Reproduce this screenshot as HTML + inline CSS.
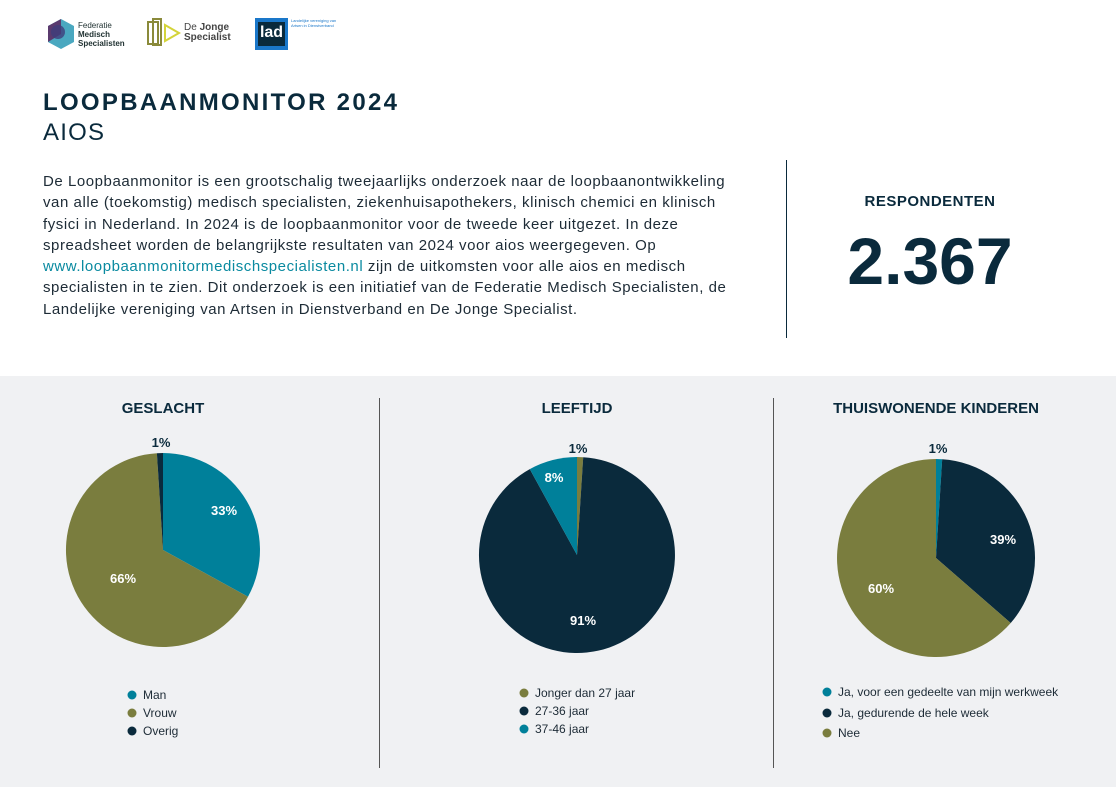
<!DOCTYPE html>
<html><head><meta charset="utf-8"><style>
body{margin:0;width:1116px;height:787px;background:#fff;font-family:"Liberation Sans",sans-serif;color:#0a2a3c;position:relative;overflow:hidden}
.a{position:absolute;white-space:nowrap}
</style></head><body>
<svg class="a" style="left:46px;top:18px" width="30" height="32" viewBox="0 0 30 32"><polygon points="15,1 28,8 28,24 15,31 2,24 2,8" fill="#4aa8c0"/><polygon points="15,1 2,8 2,24 15,16" fill="#5a3a6e"/><circle cx="12" cy="14" r="7" fill="#3e3d7a" opacity=".8"/></svg>
<div class="a" style="left:78px;top:21px;font-size:8px;line-height:9px;color:#233">Federatie<br><b>Medisch<br>Specialisten</b></div>
<svg class="a" style="left:146px;top:18px" width="38" height="30"><rect x="2" y="4" width="10" height="22" fill="none" stroke="#8a8a3a" stroke-width="2"/><rect x="7" y="1" width="8" height="26" fill="none" stroke="#8a8a3a" stroke-width="2"/><polygon points="19,7 33,15 19,23" fill="none" stroke="#d4d43a" stroke-width="2"/></svg>
<div class="a" style="left:184px;top:23px;font-size:10px;line-height:10px;color:#444"><span>De </span><b>Jonge</b><br><b>Specialist</b></div>
<div class="a" style="left:255px;top:18px;width:33px;height:32px;background:#1a77c9"></div>
<div class="a" style="left:258px;top:22px;width:27px;height:24px;background:#0a2a3c;color:#fff;font-size:16px;font-weight:bold;line-height:22px;text-align:center">lad</div>
<div class="a" style="left:291px;top:18px;font-size:4px;color:#1a77c9;line-height:5px">Landelijke vereniging van<br>Artsen in Dienstverband</div>

<div class="a" style="left:43px;top:89px;font-size:24px;font-weight:bold;letter-spacing:2.3px">LOOPBAANMONITOR 2024</div>
<div class="a" style="left:43px;top:119px;font-size:24px;letter-spacing:1.2px">AIOS</div>
<div class="a" style="left:43px;top:171px;font-size:15px;line-height:21.3px;color:#1d2b36;letter-spacing:0.55px">De Loopbaanmonitor is een grootschalig tweejaarlijks onderzoek naar de loopbaanontwikkeling<br>van alle (toekomstig) medisch specialisten, ziekenhuisapothekers, klinisch chemici en klinisch<br>fysici in Nederland. In 2024 is de loopbaanmonitor voor de tweede keer uitgezet. In deze<br>spreadsheet worden de belangrijkste resultaten van 2024 voor aios weergegeven. Op<br><span style="color:#0a8aa0">www.loopbaanmonitormedischspecialisten.nl</span> zijn de uitkomsten voor alle aios en medisch<br>specialisten in te zien. Dit onderzoek is een initiatief van de Federatie Medisch Specialisten, de<br>Landelijke vereniging van Artsen in Dienstverband en De Jonge Specialist.</div>
<div class="a" style="left:786px;top:160px;width:1px;height:178px;background:#0a2a3c"></div>
<div class="a" style="left:830px;top:193px;width:200px;text-align:center;font-size:15px;font-weight:bold;letter-spacing:0.5px">RESPONDENTEN</div>
<div class="a" style="left:800px;top:223px;width:260px;text-align:center;font-size:66px;font-weight:bold">2.367</div>

<div class="a" style="left:0;top:376px;width:1116px;height:411px;background:#f0f1f3"></div>
<div class="a" style="left:379px;top:398px;width:1px;height:370px;background:#555"></div>
<div class="a" style="left:773px;top:398px;width:1px;height:370px;background:#555"></div>
<div class="a" style="left:63px;top:400px;width:200px;text-align:center;font-size:15px;font-weight:bold">GESLACHT</div>
<div class="a" style="left:477px;top:400px;width:200px;text-align:center;font-size:15px;font-weight:bold">LEEFTIJD</div>
<div class="a" style="left:786px;top:400px;width:300px;text-align:center;font-size:15px;font-weight:bold">THUISWONENDE KINDEREN</div>

<svg class="a" style="left:0;top:0" width="1116" height="787" font-family="Liberation Sans" font-size="13" font-weight="bold" text-anchor="middle">
<path d="M163,550 L163,453 A97,97 0 0 1 248,596.7Z" fill="#00809a"/>
<path d="M163,550 L248,596.7 A97,97 0 1 1 156.9,453.2Z" fill="#7a7d3e"/>
<path d="M163,550 L156.9,453.2 A97,97 0 0 1 163,453Z" fill="#0a2a3c"/>
<text x="224" y="515" fill="#fff">33%</text><text x="123" y="583" fill="#fff">66%</text><text x="161" y="447" fill="#0a2a3c">1%</text>

<path d="M577,555 L577,457 A98,98 0 0 1 583.2,457.2Z" fill="#7a7d3e"/>
<path d="M577,555 L583.2,457.2 A98,98 0 1 1 529.8,469.1Z" fill="#0a2a3c"/>
<path d="M577,555 L529.8,469.1 A98,98 0 0 1 577,457Z" fill="#00809a"/>
<text x="554" y="482" fill="#fff">8%</text><text x="583" y="625" fill="#fff">91%</text><text x="578" y="453" fill="#0a2a3c">1%</text>

<path d="M936,558 L936,459 A99,99 0 0 1 942.2,459.2Z" fill="#00809a"/>
<path d="M936,558 L942.2,459.2 A99,99 0 0 1 1010.7,623Z" fill="#0a2a3c"/>
<path d="M936,558 L1010.7,623 A99,99 0 1 1 936,459Z" fill="#7a7d3e"/>
<text x="1003" y="544" fill="#fff">39%</text><text x="881" y="593" fill="#fff">60%</text><text x="938" y="453" fill="#0a2a3c">1%</text>

<g font-weight="normal" font-size="12" text-anchor="start" fill="#1d2b36">
<circle cx="132" cy="695" r="4.5" fill="#00809a"/><text x="143" y="699">Man</text>
<circle cx="132" cy="713" r="4.5" fill="#7a7d3e"/><text x="143" y="717">Vrouw</text>
<circle cx="132" cy="731" r="4.5" fill="#0a2a3c"/><text x="143" y="735">Overig</text>
<circle cx="524" cy="693" r="4.5" fill="#7a7d3e"/><text x="535" y="697">Jonger dan 27 jaar</text>
<circle cx="524" cy="711" r="4.5" fill="#0a2a3c"/><text x="535" y="715">27-36 jaar</text>
<circle cx="524" cy="729" r="4.5" fill="#00809a"/><text x="535" y="733">37-46 jaar</text>
<circle cx="827" cy="692" r="4.5" fill="#00809a"/><text x="838" y="696">Ja, voor een gedeelte van mijn werkweek</text>
<circle cx="827" cy="713" r="4.5" fill="#0a2a3c"/><text x="838" y="717">Ja, gedurende de hele week</text>
<circle cx="827" cy="733" r="4.5" fill="#7a7d3e"/><text x="838" y="737">Nee</text>
</g>
</svg>
</body></html>
